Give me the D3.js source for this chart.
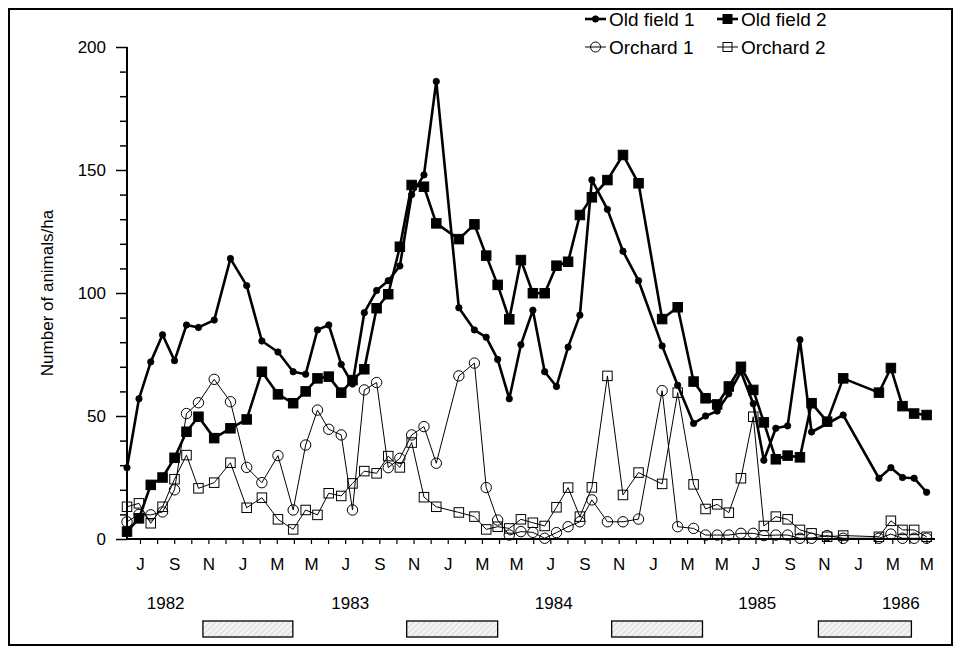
<!DOCTYPE html>
<html>
<head>
<meta charset="utf-8">
<script src="https://cdn.jsdelivr.net/npm/d3@7"></script>
<style>
  html, body { margin: 0; padding: 0; background: #fff; }
  svg text { font-family: "Liberation Sans", Arial, Helvetica, sans-serif; fill: #000; }
</style>
</head>
<body>
<svg id="chart" width="961" height="654"></svg>
<script>
// ---- data (month index: Jan 1982 = 0, Jul 1982 = 6) ----
const sampleMonths = [5.24, 5.94, 6.63, 7.32, 8.02, 8.72, 9.42, 10.34, 11.29, 12.24,
  13.13, 14.07, 14.96, 15.69, 16.38, 17.04, 17.77, 18.43, 19.12, 19.84,
  20.52, 21.20, 21.89, 22.61, 23.33, 24.65, 25.56, 26.25, 26.92, 27.60,
  28.28, 28.98, 29.67, 30.36, 31.04, 31.73, 32.43, 33.34, 34.25, 35.16,
  36.54, 37.45, 38.38, 39.08, 39.76, 40.44, 41.15, 41.87, 42.49, 43.19,
  43.88, 44.60, 45.28, 46.19, 47.13, 49.22, 49.92, 50.60, 51.28, 52.01];

const oldField1 = [29, 57, 72, 83, 72.5, 87, 86, 89, 114, 103,
  80.5, 76, 68, 67, 85, 87, 71, 63, 92, 101,
  105, 111, 140, 148, 186, 94, 85, 82, 73, 57,
  79, 93, 68, 62, 78, 91, 146, 134, 117, 105,
  78.5, 62.5, 47, 50, 52, 59, 68, 55, 32, 45,
  46, 81, 43.5, null, 50.4, 24.7, 29, 25, 24.7, 19];

const oldField2 = [3, 8.4, 22, 25, 33, 43.6, 49.7, 41, 45, 48.6,
  68, 58.8, 55.2, 60, 65.3, 66, 59.5, 64.6, 69, 93.8,
  99.5, 118.8, 143.9, 143.2, 128.3, 121.9, 127.9, 115.2, 103.3, 89.3,
  113.4, 99.9, 99.9, 111.1, 112.7, 131.7, 138.9, 145.9, 156.1, 144.6,
  89.4, 94.2, 64, 57.2, 54.7, 62, 70, 60.6, 47.4, 32.4,
  33.9, 33.2, 55.2, 47.7, 65.3, 59.5, 69.5, 54, 51, 50.4];

const orchard1 = [7, 10, 9.8, 11, 20, 51, 55.4, 64.9, 55.8, 29.1,
  22.9, 33.9, 11.8, 38.2, 52.4, 44.6, 42.3, 11.8, 60.6, 63.6,
  29, 32.8, 42.3, 45.7, 30.8, 66.3, 71.5, 20.9, 7.7, 1.6,
  3, 2.7, 0.3, 2.6, 5, 7, 15.9, 7, 7, 8.1,
  60.3, 5, 4.3, 1.6, 1.6, 1.6, 2.3, 2.3, 1.4, 1.6,
  1.6, 0.3, 0.3, 1.4, 0.3, 0.3, 2, 0.3, 0.3, 0.3];

const orchard2 = [13.1, 14.5, 6.4, 13.1, 24.3, 34.1, 20.6, 22.9, 31, 12.7,
  16.8, 8, 3.9, 11.8, 9.8, 18.6, 17.5, 22.6, 27.6, 26.7,
  33.7, 29.1, 39.2, 17, 13.1, 10.8, 9.1, 3.9, 5, 4.3,
  8, 6.6, 5.3, 12.9, 20.9, 9.1, 21, 66.3, 17.9, 27,
  22.4, 59.5, 22.2, 12.2, 14.1, 10.7, 24.7, 49.7, 5.3, 9.1,
  8, 3.7, 2.3, 0.9, 1.4, 0.9, 7.4, 3.7, 3.7, 0.9];

const seriesNames = ["Old field 1", "Old field 2", "Orchard 1", "Orchard 2"];

const tickMonths = [6, 8, 10, 12, 14, 16, 18, 20, 22, 24, 26, 28,
  30, 32, 34, 36, 38, 40, 42, 44, 46, 48, 50, 52];
const tickLabels = ["J", "S", "N", "J", "M", "M", "J", "S", "N", "J", "M", "M",
  "J", "S", "N", "J", "M", "M", "J", "S", "N", "J", "M", "M"];

const yearLabels = ["1982", "1983", "1984", "1985", "1986"];
const yearMonths = [7.5, 18.3, 30.2, 42.1, 50.5];

const winterStart = [9.68, 21.6, 33.59, 45.68];
const winterEnd = [14.94, 26.92, 38.9, 51.12];

const yTicks = [0, 50, 100, 150, 200];

// ---- layout ----
const svg = d3.select("#chart");
const x = d3.scaleLinear().domain([5.24, 52.5]).range([127, 935]);
const y = d3.scaleLinear().domain([0, 200]).range([539, 47]);
const FONT = 17;
const LEGFONT = 19;

// frame
svg.append("rect").attr("x", 9).attr("y", 9).attr("width", 943).attr("height", 636)
  .attr("fill", "none").attr("stroke", "#000").attr("stroke-width", 2);

// hatch pattern
const defs = svg.append("defs");
const pat = defs.append("pattern").attr("id", "hatch").attr("patternUnits", "userSpaceOnUse")
  .attr("width", 4).attr("height", 4).attr("patternTransform", "rotate(45)");
pat.append("rect").attr("width", 4).attr("height", 4).attr("fill", "#f3f3f3");
pat.append("line").attr("x1", 0).attr("y1", 0).attr("x2", 0).attr("y2", 4)
  .attr("stroke", "#c8c8c8").attr("stroke-width", 1.2);

// y axis
const yAxis = d3.axisLeft(y).tickValues(d3.range(0, 201, 10)).tickSize(7)
  .tickFormat(d => yTicks.includes(d) ? d : "");
const gy = svg.append("g").attr("transform", `translate(${x.range()[0]},0)`).call(yAxis);
gy.select(".domain").attr("stroke-width", 2).attr("d", `M0,${y(0)}V${y(200)}`);
gy.selectAll(".tick line").attr("stroke-width", 1.5)
  .attr("x2", d => yTicks.includes(d) ? -11 : -7);
gy.selectAll(".tick text").attr("x", -21).attr("dy", "0.35em")
  .style("font-size", FONT + "px").style("font-family", '"Liberation Sans", Arial, sans-serif');

// x axis
const xAxis = d3.axisBottom(x).tickValues(d3.range(6, 53, 1)).tickSize(5)
  .tickFormat(d => { const i = tickMonths.indexOf(d); return i >= 0 ? tickLabels[i] : ""; });
const gx = svg.append("g").attr("transform", `translate(0,${y(0)})`).call(xAxis);
gx.select(".domain").attr("stroke-width", 2).attr("d", `M${x.range()[0]},0H${x.range()[1]}`);
gx.selectAll(".tick line").attr("stroke-width", 1.2);
gx.selectAll(".tick text").attr("y", 19).attr("dy", "0.71em")
  .style("font-size", FONT + "px").style("font-family", '"Liberation Sans", Arial, sans-serif');

// year labels
svg.append("g").selectAll("text").data(yearLabels).join("text")
  .attr("x", (d, i) => x(yearMonths[i])).attr("y", 609)
  .attr("text-anchor", "middle").style("font-size", FONT + "px").text(d => d);

// winter bars
svg.append("g").selectAll("rect").data(winterStart).join("rect")
  .attr("x", d => x(d)).attr("y", 621)
  .attr("width", (d, i) => x(winterEnd[i]) - x(d)).attr("height", 16)
  .attr("fill", "url(#hatch)").attr("stroke", "#000").attr("stroke-width", 1.3);

// y title
svg.append("text").attr("transform", `translate(53,${(y(0) + y(200)) / 2}) rotate(-90)`)
  .attr("text-anchor", "middle").style("font-size", FONT + "px").text("Number of animals/ha");

// ---- series ----
function pts(vals) {
  return sampleMonths.map((m, i) => ({ m, v: vals[i] })).filter(d => d.v != null);
}
const line = d3.line().x(d => x(d.m)).y(d => y(d.v));

const styles = [
  { vals: oldField1, lw: 2.6, shape: "circle", size: 3.2, fill: "#000" },
  { vals: oldField2, lw: 2.6, shape: "square", size: 9.5, fill: "#000" },
  { vals: orchard1, lw: 1, shape: "circle", size: 5.2, fill: "none" },
  { vals: orchard2, lw: 1, shape: "square", size: 9.5, fill: "none" }
];

function drawMarker(g, shape, size, fill, cx, cy) {
  if (shape === "circle") {
    g.append("circle").attr("cx", cx).attr("cy", cy).attr("r", size)
      .attr("fill", fill).attr("stroke", "#000").attr("stroke-width", fill === "none" ? 1 : 0.8);
  } else {
    g.append("rect").attr("x", cx - size / 2).attr("y", cy - size / 2)
      .attr("width", size).attr("height", size)
      .attr("fill", fill).attr("stroke", "#000").attr("stroke-width", 1);
  }
}

const order = [3, 2, 1, 0];
order.forEach(k => {
  const s = styles[k];
  const data = pts(s.vals);
  const g = svg.append("g");
  g.append("path").datum(data).attr("d", line).attr("fill", "none")
    .attr("stroke", "#000").attr("stroke-width", s.lw).attr("stroke-linejoin", "round");
  data.forEach(d => drawMarker(g, s.shape, s.size, s.fill, x(d.m), y(d.v)));
});

// ---- legend ----
const legPos = [[585, 19], [717, 19], [585, 47], [717, 47]];
seriesNames.forEach((name, k) => {
  const s = styles[k];
  const [lx, ly] = legPos[k];
  const g = svg.append("g");
  g.append("line").attr("x1", lx).attr("x2", lx + 21).attr("y1", ly).attr("y2", ly)
    .attr("stroke", "#000").attr("stroke-width", s.lw);
  const msize = s.shape === "circle" ? (s.fill === "none" ? 5 : 3.2) : 9;
  drawMarker(g, s.shape, msize, s.fill, lx + 10.5, ly);
  g.append("text").attr("x", lx + 24).attr("y", ly).attr("dy", "0.36em")
    .style("font-size", LEGFONT + "px").text(name);
});
</script>
</body>
</html>
